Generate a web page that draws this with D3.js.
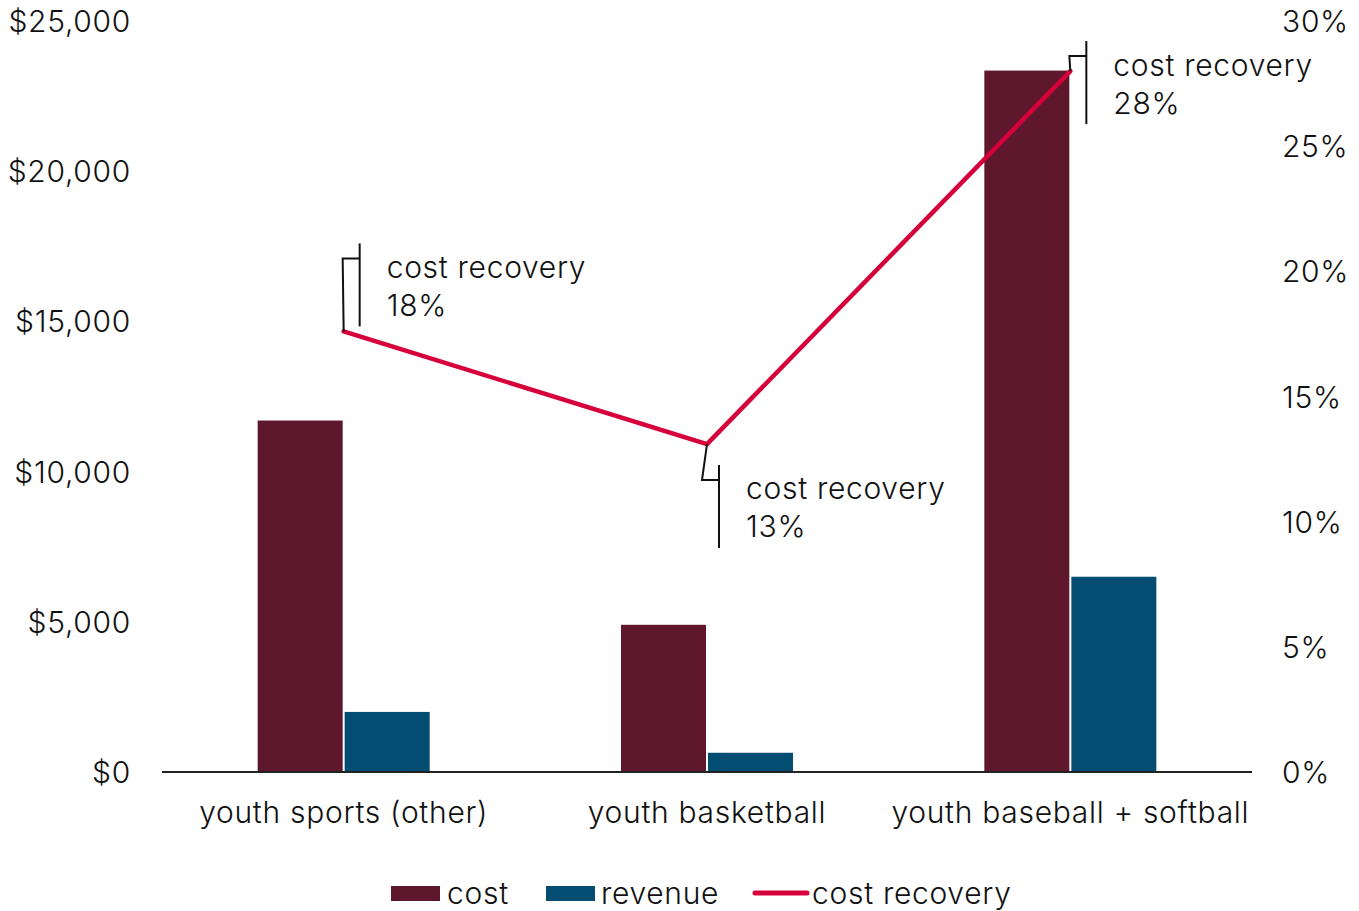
<!DOCTYPE html>
<html>
<head>
<meta charset="utf-8">
<script src="https://cdn.jsdelivr.net/npm/d3@7"></script>
<style>
  html, body { margin: 0; padding: 0; background: #fff; }
  svg { display: block; }
  text { font-family: Inter, "Noto Sans", sans-serif; font-weight: 300; fill: #111; letter-spacing: 0.7px; }
</style>
</head>
<body>
<svg id="chart" width="1359" height="911"></svg>
<script>
// Program categories
const categories = ["youth sports (other)", "youth basketball", "youth baseball + softball"];
// Dollar amounts per program
const costValues = [11700, 4900, 23350];
const revenueValues = [2000, 640, 6500];
// Cost recovery share per program
const recoveryValues = [0.176, 0.131, 0.28];
// Axis ticks
const dollarTicks = [0, 5000, 10000, 15000, 20000, 25000];
const percentTicks = [0, 0.05, 0.10, 0.15, 0.20, 0.25, 0.30];
const seriesNames = ["cost", "revenue"];

const colors = { cost: "#5e172c", revenue: "#024d71", recovery: "#d6003a" };
const FS = 30;

const svg = d3.select("#chart");
const plot = { left: 162, right: 1252, top: 21, bottom: 772 };

const x = d3.scaleBand().domain(categories).range([plot.left, plot.right]).padding(0);
const x1 = d3.scaleBand().domain(seriesNames).range([-86, 86]).paddingInner(0.023);
const yL = d3.scaleLinear().domain([0, 25000]).range([plot.bottom, plot.top]);
const yR = d3.scaleLinear().domain([0, 0.30]).range([plot.bottom, plot.top]);
const cx = c => x(c) + x.bandwidth() / 2;

function styleTicks(sel) {
  sel.selectAll("text").attr("font-size", FS).attr("dy", "0.35em")
    .style("font-family", "Inter, sans-serif").style("font-weight", 300)
    .style("letter-spacing", "0.7px").attr("fill", "#111");
}

// Left dollar axis
const leftAxis = d3.axisLeft(yL).tickValues(dollarTicks).tickSize(0).tickPadding(0)
  .tickFormat(d => "$" + d3.format(",")(d));
svg.append("g").attr("transform", `translate(131,0)`).call(leftAxis)
  .call(g => g.select(".domain").remove())
  .call(styleTicks);

// Right percent axis
const rightAxis = d3.axisRight(yR).tickValues(percentTicks).tickSize(0).tickPadding(0)
  .tickFormat(d3.format(".0%"));
svg.append("g").attr("transform", `translate(1282,0)`).call(rightAxis)
  .call(g => g.select(".domain").remove())
  .call(styleTicks);

// Bars
const rows = categories.map((c, i) => ({ cat: c, cost: costValues[i], revenue: revenueValues[i], rec: recoveryValues[i] }));
const groups = svg.append("g").selectAll("g").data(rows).join("g")
  .attr("transform", d => `translate(${cx(d.cat)},0)`);
groups.selectAll("rect").data(d => seriesNames.map(k => ({ key: k, value: d[k] }))).join("rect")
  .attr("x", d => x1(d.key))
  .attr("width", x1.bandwidth())
  .attr("y", d => yL(d.value))
  .attr("height", d => yL(0) - yL(d.value))
  .attr("fill", d => colors[d.key]);

// Baseline
svg.append("line").attr("x1", plot.left).attr("x2", plot.right)
  .attr("y1", plot.bottom).attr("y2", plot.bottom)
  .attr("stroke", "#222").attr("stroke-width", 2);

// Category labels
svg.append("g").selectAll("text").data(categories).join("text")
  .attr("x", d => cx(d)).attr("y", 823).attr("text-anchor", "middle")
  .attr("font-size", FS).text(d => d);

// Cost recovery line
const line = d3.line().x(d => cx(d.cat)).y(d => yR(d.rec));
svg.append("path").datum(rows).attr("d", line)
  .attr("fill", "none").attr("stroke", colors.recovery).attr("stroke-width", 4.5)
  .attr("stroke-linejoin", "round").attr("stroke-linecap", "round");

// Callouts: leader from point to a bracket, then the label
const callouts = [
  { i: 0, elbowDy: -73, elbowDx: -1, barTop: -88, barBottom: -5, textDy: -53 },
  { i: 1, elbowDy: 36, elbowDx: -5, barTop: 21, barBottom: 104, textDy: 55 },
  { i: 2, elbowDy: -15, elbowDx: -1, barTop: -30, barBottom: 53, textDy: 5 }
];
const cg = svg.append("g");
callouts.forEach(c => {
  const d = rows[c.i];
  const px = cx(d.cat), py = yR(d.rec);
  const ex = px + c.elbowDx, ey = py + c.elbowDy;
  const bx = ex + 17;
  cg.append("path")
    .attr("d", `M${px},${py}L${ex},${ey}L${bx},${ey}`)
    .attr("fill", "none").attr("stroke", "#111").attr("stroke-width", 2);
  cg.append("line").attr("x1", bx).attr("x2", bx)
    .attr("y1", py + c.barTop).attr("y2", py + c.barBottom)
    .attr("stroke", "#111").attr("stroke-width", 2);
  const t = cg.append("text").attr("x", bx + 27).attr("y", py + c.textDy).attr("font-size", FS);
  t.append("tspan").attr("x", bx + 27).text("cost recovery");
  t.append("tspan").attr("x", bx + 27).attr("dy", 38).text(d3.format(".0%")(d.rec));
});

// Legend
const legend = svg.append("g");
legend.append("rect").attr("x", 391).attr("y", 886).attr("width", 49).attr("height", 15).attr("fill", colors.cost);
legend.append("text").attr("x", 447).attr("y", 904).attr("font-size", FS).text("cost");
legend.append("rect").attr("x", 546).attr("y", 886).attr("width", 49).attr("height", 15).attr("fill", colors.revenue);
legend.append("text").attr("x", 601).attr("y", 904).attr("font-size", FS).text("revenue");
legend.append("line").attr("x1", 755).attr("x2", 807).attr("y1", 893).attr("y2", 893)
  .attr("stroke", colors.recovery).attr("stroke-width", 5).attr("stroke-linecap", "round");
legend.append("text").attr("x", 812).attr("y", 904).attr("font-size", FS).text("cost recovery");
</script>
</body>
</html>
